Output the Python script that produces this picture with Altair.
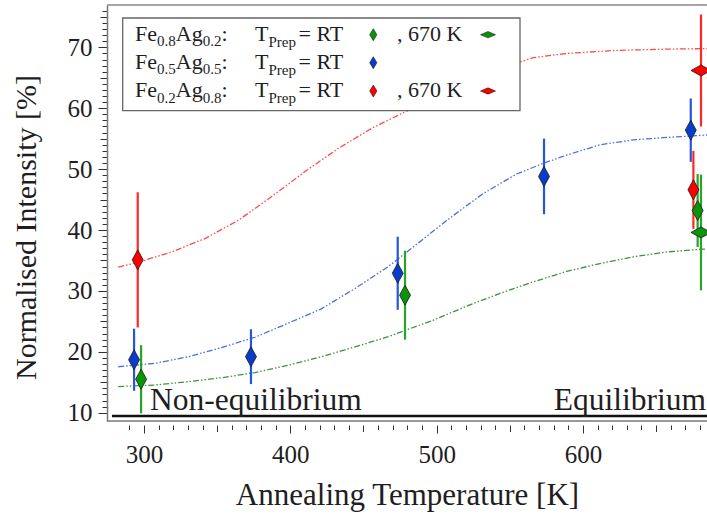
import altair as alt
import pandas as pd

# ---------------- data ----------------
# measured points: annealing temperature [K], normalised intensity [%], error half-width
blue_rt_T = [293.2, 373.1, 473.4, 573.4, 673.7]
blue_rt_V = [18.7, 19.2, 32.9, 48.8, 56.4]
blue_rt_E = [5.1, 4.5, 6.0, 6.2, 5.2]

green_rt_T = [298.0, 478.4, 678.4]
green_rt_V = [15.5, 29.3, 43.2]
green_rt_E = [5.6, 7.3, 6.0]

green_670_T = [680.7]
green_670_V = [39.6]
green_670_E = [9.5]

red_rt_T = [295.7, 675.5]
red_rt_V = [35.1, 46.6]
red_rt_E = [11.1, 6.4]

red_670_T = [680.7]
red_670_V = [66.2]
red_670_E = [9.2]

# fitted guide curves
red_fit_T = [282.4, 296.0, 318.9, 341.7, 364.5, 387.3, 410.0, 432.8, 455.6, 478.4,
             557.0, 566.1, 588.9, 623.0, 657.3, 684.8]
red_fit_V = [33.9, 34.7, 36.4, 38.6, 41.6, 45.5, 49.6, 53.4, 56.7, 59.4,
             67.6, 68.3, 69.0, 69.5, 69.7, 69.8]
blue_fit_T = [282.4, 307.5, 330.3, 353.1, 375.9, 398.6, 421.5, 444.2, 467.0, 486.0,
              509.2, 531.9, 554.7, 573.4, 588.9, 611.7, 634.5, 657.3, 684.8]
blue_fit_V = [17.55, 18.1, 19.2, 20.7, 22.4, 24.7, 27.1, 30.4, 34.0, 37.6,
              42.0, 46.0, 49.2, 51.0, 52.3, 54.0, 54.8, 55.2, 55.6]
green_fit_T = [282.4, 307.5, 330.3, 353.1, 375.9, 398.6, 421.5, 444.2, 467.0, 497.7,
               520.6, 543.3, 566.1, 588.9, 611.7, 634.5, 657.3, 678.4, 684.8]
green_fit_V = [14.3, 14.55, 15.1, 15.75, 16.6, 17.8, 19.2, 20.8, 22.5, 25.2,
               27.5, 29.6, 31.5, 33.2, 34.5, 35.6, 36.4, 36.8, 36.9]

boundary_T = [278.1, 684.8]
boundary_V = 9.46

legend_rows = [("Fe", "0.8", "Ag", "0.2"), ("Fe", "0.5", "Ag", "0.5"), ("Fe", "0.2", "Ag", "0.8")]
legend_has670 = [True, False, True]

# ---------------- layout / style ----------------
W, H = 600, 416
X_DOM = [274.7, 684.8]
Y_DOM = [8.64, 76.95]
FONT = "Liberation Serif, Times New Roman, serif"
TXT = "#1e1e1e"

COL_MARK = {"red": "#ff0000", "blue": "#0a3ccc", "green": "#0a940a"}
COL_ERR = {"red": "#ff2626", "blue": "#2655dd", "green": "#26a626"}
COL_FIT = {"red": "#ff4a4a", "blue": "#4a70e0", "green": "#3a963a"}
ROW_COL = ["green", "blue", "red"]

VPATH = "M0,-1L0.55,0L0,1L-0.55,0Z"
HPATH = "M-1,0L0,-0.55L1,0L0,0.55Z"
VPATH_S = "M0,-1L0.6,0L0,1L-0.6,0Z"
HPATH_S = "M-1,0L0,-0.42L1,0L0,0.42Z"

xs = alt.Scale(domain=X_DOM, nice=False, zero=False)
ys = alt.Scale(domain=Y_DOM, nice=False, zero=False)


def px2T(px):
    return X_DOM[0] + px / W * (X_DOM[1] - X_DOM[0])


def py2V(py):
    return Y_DOM[1] - py / H * (Y_DOM[1] - Y_DOM[0])


# ---------------- tables ----------------
pts = []
for name, T, V, E, kind in [
    ("blue", blue_rt_T, blue_rt_V, blue_rt_E, "v"),
    ("green", green_rt_T, green_rt_V, green_rt_E, "v"),
    ("red", red_rt_T, red_rt_V, red_rt_E, "v"),
    ("green", green_670_T, green_670_V, green_670_E, "h"),
    ("red", red_670_T, red_670_V, red_670_E, "h"),
]:
    for t, v, e in zip(T, V, E):
        pts.append({"T": t, "V": v, "lo": v - e, "hi": v + e, "kind": kind,
                    "mc": COL_MARK[name], "ec": COL_ERR[name]})
pts = pd.DataFrame(pts)

fits = []
for name, T, V in [("red", red_fit_T, red_fit_V), ("blue", blue_fit_T, blue_fit_V),
                   ("green", green_fit_T, green_fit_V)]:
    for t, v in zip(T, V):
        fits.append({"T": t, "V": v, "c": COL_FIT[name]})
fits = pd.DataFrame(fits)

XA = alt.Axis(
    values=list(range(290, 690, 10)),
    labelExpr="datum.value % 100 === 0 ? datum.label : ''",
    tickSize={"condition": [{"test": "datum.value % 100 === 0", "value": 8},
                            {"test": "datum.value % 50 === 0", "value": 6.5}], "value": 4.5},
    domain=False, offset=4, grid=False,
    tickColor="#333", tickWidth=1,
    labelFont=FONT, labelFontSize=25, labelColor=TXT, labelPadding=9,
    labelFlush=False, labelOverlap=False,
    title="Annealing Temperature [K]", titleFont=FONT, titleFontSize=31,
    titleFontWeight="normal", titleColor=TXT, titleBaseline="alphabetic",
    titleAlign="center", titleX=W / 2, titleY=79,
)
YA = alt.Axis(
    values=list(range(10, 77)),
    labelExpr="datum.value % 10 === 0 ? datum.label : ''",
    tickSize={"condition": [{"test": "datum.value % 10 === 0", "value": 9},
                            {"test": "datum.value % 5 === 0", "value": 7}], "value": 5},
    domain=True, domainColor="#777", domainWidth=1.5, grid=False,
    tickColor="#333", tickWidth=1,
    labelFont=FONT, labelFontSize=25, labelColor=TXT, labelPadding=6,
    labelFlush=False, labelOverlap=False, labelBaseline="middle",
    title="Normalised Intensity [%]", titleFont=FONT, titleFontSize=30,
    titleFontWeight="normal", titleColor=TXT, titleAngle=270,
    titleBaseline="alphabetic", titleAlign="center", titleX=-72, titleY=222,
)


def X(f):
    return alt.X(f, scale=xs, axis=XA)


def Y(f):
    return alt.Y(f, scale=ys, axis=YA)


curves = alt.Chart(fits).mark_line(strokeWidth=1.3, strokeDash=[6, 2, 1.5, 2, 1.5, 2]).encode(
    x=X("T:Q"), y=Y("V:Q"), color=alt.Color("c:N", scale=None), order="T:Q")

boundary = alt.Chart(pd.DataFrame({"x": [boundary_T[0]], "x2": [boundary_T[1]], "y": [boundary_V]})).mark_rule(
    strokeWidth=2.6, color="#111").encode(x=X("x:Q"), x2="x2:Q", y=Y("y:Q"))

frame_top = alt.Chart(pd.DataFrame({"a": [0]})).mark_rule(color="#888", strokeWidth=1.5).encode(
    x=alt.value(0), x2=alt.value(W), y=alt.value(0))
frame_bot = alt.Chart(pd.DataFrame({"a": [0]})).mark_rule(color="#777", strokeWidth=1.5).encode(
    x=alt.value(0), x2=alt.value(W), y=alt.value(H))

errs = alt.Chart(pts).mark_rule(strokeWidth=2.2).encode(
    x=X("T:Q"), y=Y("lo:Q"), y2="hi:Q", color=alt.Color("ec:N", scale=None))

vpts = alt.Chart(pts).transform_filter("datum.kind === 'v'").mark_point(
    shape=VPATH, size=400, filled=True, fillOpacity=1, stroke="#1a1a1a", strokeWidth=0.8, opacity=1).encode(
    x=X("T:Q"), y=Y("V:Q"), fill=alt.Fill("mc:N", scale=None))
hpts = alt.Chart(pts).transform_filter("datum.kind === 'h'").mark_point(
    shape=HPATH, size=400, filled=True, fillOpacity=1, stroke="#1a1a1a", strokeWidth=0.8, opacity=1).encode(
    x=X("T:Q"), y=Y("V:Q"), fill=alt.Fill("mc:N", scale=None))

annot = pd.DataFrame({"T": [304.1], "V": [10.44], "t": ["Non-equilibrium"]})
annot2 = pd.DataFrame({"T": [684.1], "V": [10.44], "t": ["Equilibrium"]})
txt1 = alt.Chart(annot).mark_text(align="left", baseline="alphabetic", font=FONT, fontSize=31.5, color=TXT).encode(
    x=X("T:Q"), y=Y("V:Q"), text="t:N")
txt2 = alt.Chart(annot2).mark_text(align="right", baseline="alphabetic", font=FONT, fontSize=31.5, color=TXT).encode(
    x=X("T:Q"), y=Y("V:Q"), text="t:N")

# ---------------- legend ----------------
OX, OY = 107, 5  # plot origin in the page
box = alt.Chart(pd.DataFrame({"a": [0]})).mark_rect(fill="white", stroke="#666", strokeWidth=1.3).encode(
    x=alt.value(122.7 - OX), x2=alt.value(520 - OX), y=alt.value(18 - OY), y2=alt.value(110.7 - OY))

MAIN, SUB = 22, 15
leg_txt = []
leg_mk = []
baselines = [40.7, 68.7, 97.0]
for i, (a, sa, b, sb) in enumerate(legend_rows):
    by = baselines[i] - OY
    x = 135 - OX
    for s, size, dy in [(a, MAIN, 0), (sa, SUB, 5.5), (b, MAIN, 0), (sb, SUB, 5.5), (":", MAIN, 0)]:
        leg_txt.append({"T": px2T(x), "V": py2V(by + dy), "t": s, "s": size})
        w = {"Fe": 1.0, "Ag": 1.222, ":": 0.278}.get(s, 1.25)
        x += w * size
    leg_txt.append({"T": px2T(255 - OX), "V": py2V(by), "t": "T", "s": MAIN})
    leg_txt.append({"T": px2T(268.4 - OX), "V": py2V(by + 6), "t": "Prep", "s": SUB})
    leg_txt.append({"T": px2T(298.5 - OX), "V": py2V(by), "t": "= RT", "s": MAIN})
    leg_mk.append({"T": px2T(373.3 - OX), "V": py2V(by - 6), "k": "v", "mc": COL_MARK[ROW_COL[i]]})
    if legend_has670[i]:
        leg_txt.append({"T": px2T(397 - OX), "V": py2V(by), "t": ", 670 K", "s": MAIN})
        leg_mk.append({"T": px2T(488 - OX), "V": py2V(by - 6), "k": "h", "mc": COL_MARK[ROW_COL[i]]})
leg_txt = pd.DataFrame(leg_txt)
leg_mk = pd.DataFrame(leg_mk)

legend_text = alt.Chart(leg_txt).mark_text(align="left", baseline="alphabetic", font=FONT, color=TXT).encode(
    x=X("T:Q"), y=Y("V:Q"), text="t:N", size=alt.Size("s:Q", scale=None))
legend_v = alt.Chart(leg_mk).transform_filter("datum.k === 'v'").mark_point(
    shape=VPATH_S, size=144, filled=True, fillOpacity=1, stroke="#1a1a1a", strokeWidth=0.6, opacity=1).encode(
    x=X("T:Q"), y=Y("V:Q"), fill=alt.Fill("mc:N", scale=None))
legend_h = alt.Chart(leg_mk).transform_filter("datum.k === 'h'").mark_point(
    shape=HPATH_S, size=225, filled=True, fillOpacity=1, stroke="#1a1a1a", strokeWidth=0.6, opacity=1).encode(
    x=X("T:Q"), y=Y("V:Q"), fill=alt.Fill("mc:N", scale=None))

chart = alt.layer(
    curves, boundary, frame_top, frame_bot, errs, vpts, hpts, txt1, txt2,
    box, legend_text, legend_v, legend_h,
).properties(
    width=W, height=H,
    autosize=alt.AutoSizeParams(type="none"),
    padding={"left": OX, "top": OY, "right": 0, "bottom": 515 - OY - H},
    background="white",
).configure_view(stroke=None)

chart.save("out.html", embed_options={"renderer": "svg", "actions": False})
